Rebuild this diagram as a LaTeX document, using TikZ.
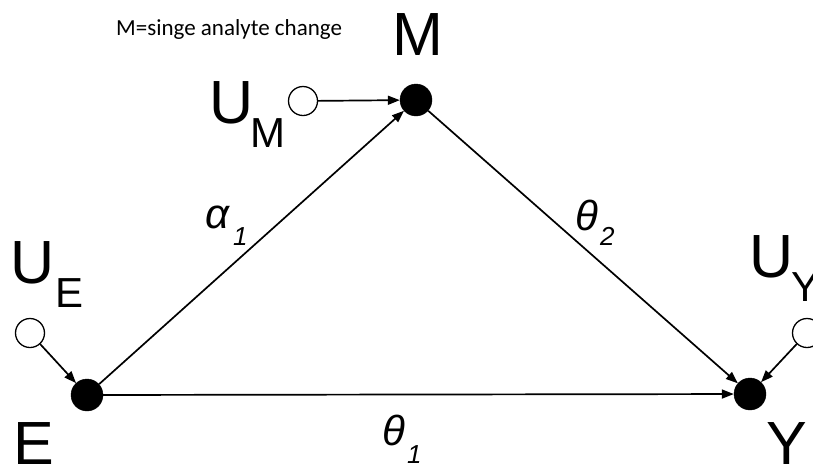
\documentclass[tikz,border=0pt]{standalone}
\usepackage{fontspec}
\setmainfont{Liberation Sans}
\newfontfamily\calfont{Carlito}
\usetikzlibrary{arrows.meta}
\begin{document}
\begin{tikzpicture}[x=1pt,y=-1pt,
  dot/.style={circle,fill=black,draw=black,minimum size=32pt,inner sep=0pt},
  odot/.style={circle,fill=white,draw=black,line width=1.3pt,minimum size=29pt,inner sep=0pt},
  big/.style={inner sep=0pt,anchor=base west,font=\fontsize{61}{61}\selectfont},
  sub/.style={inner sep=0pt,anchor=base west,font=\fontsize{42}{42}\selectfont},
  greek/.style={inner sep=0pt,anchor=base west,font=\fontsize{42}{42}\selectfont\itshape},
  gsub/.style={inner sep=0pt,anchor=base west,font=\fontsize{26}{26}\selectfont\itshape},
  edge/.style={line width=1.7pt,-{Triangle[length=12pt,width=9pt]}},
  note/.style={inner sep=0pt,anchor=base west,font=\calfont\fontsize{23}{23}\selectfont}]
\useasboundingbox (0,0) rectangle (813,467);
% main nodes
\node[dot] (M) at (416,100) {};
\node[dot] (E) at (87,395) {};
\node[dot] (Y) at (750,394) {};
% exogenous nodes
\node[odot] (UMc) at (303,101) {};
\node[odot] (UEc) at (30,333) {};
\node[odot] (UYc) at (807,333) {};
% connectors
\draw[edge] (UMc) -- (M);
\draw[edge] (UEc) -- (E);
\draw[edge] (UYc) -- (Y);
\draw[edge] (E) -- (M);
\draw[edge] (M) -- (Y);
\draw[edge] (E) -- (Y);
% letters
\node[big] (Mlab) at (392,55) {M};
\node[big] (Elab) at (13,464) {E};
\node[big] (Ylab) at (766,464) {Y};
\node[big] (UM) at (209,123) {U};
\node[sub] (UMs) at (250,147) {M};
\node[big] (UE) at (10,283) {U};
\node[sub] (UEs) at (55,307) {E};
\node[big] (UY) at (749,277) {U};
\node[sub] (UYs) at (791,301) {Y};
% edge labels
\node[greek] (a1) at (205,228) {α};
\node[gsub] (a1s) at (233,245) {1};
\node[greek] (t2) at (575,230) {θ};
\node[gsub] (t2s) at (600,245) {2};
\node[greek] (t1) at (382,445) {θ};
\node[gsub] (t1s) at (407,463) {1};
% note
\node[note] (txt) at (116,35) {M=singe analyte change};
\end{tikzpicture}
\end{document}
